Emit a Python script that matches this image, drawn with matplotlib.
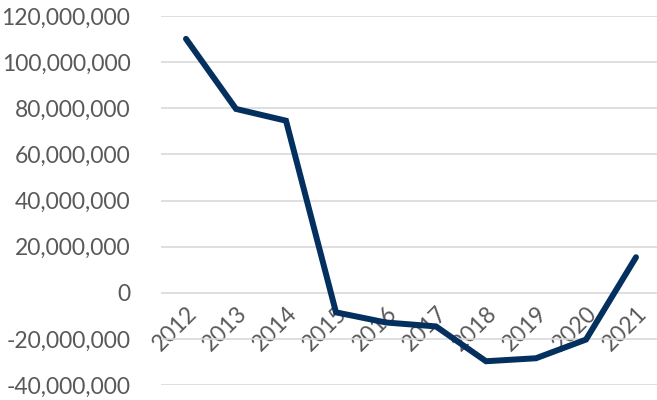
import matplotlib.pyplot as plt
from matplotlib.ticker import FuncFormatter

# Valeurs annuelles
annees = ["2012", "2013", "2014", "2015", "2016", "2017", "2018", "2019", "2020", "2021"]
valeurs = [110.1e6, 79.7e6, 74.6e6, -8.5e6, -12.9e6, -14.6e6, -29.7e6, -28.4e6, -20.3e6, 15.4e6]
graduations = [-40e6, -20e6, 0, 20e6, 40e6, 60e6, 80e6, 100e6, 120e6]

plt.rcParams['font.family'] = ['Lato', 'DejaVu Sans']
gris = '#595959'

fig = plt.figure(figsize=(6.57, 4.0), dpi=100)
ax = fig.add_axes([161 / 657, 15 / 400, 500 / 657, 369 / 400])

x = range(len(annees))
ax.plot(x, valeurs, color='#03305f', linewidth=4.3, solid_capstyle='round', solid_joinstyle='miter', zorder=3)

ax.set_xlim(-0.5, len(annees) - 0.5)
ax.set_ylim(-40e6, 120e6)
ax.set_yticks(graduations)
ax.yaxis.set_major_formatter(FuncFormatter(lambda v, p: f"{v:,.0f}"))
ax.grid(axis='y', color='#d9d9d9', linewidth=1.2)
ax.set_axisbelow(True)

# axe des catégories posé sur la ligne zéro
ax.spines['bottom'].set_position(('data', 0))
for s in ['top', 'right', 'left', 'bottom']:
    ax.spines[s].set_visible(False)
ax.set_xticks(list(x))
ax.set_xticklabels(annees, rotation=45, ha='right', va='top', rotation_mode='anchor')
ax.tick_params(axis='x', length=0, pad=7, labelsize=16.5, colors=gris)
ax.tick_params(axis='y', length=0, pad=22, labelsize=16.5, colors=gris)

fig.savefig('out.png', dpi=100)
